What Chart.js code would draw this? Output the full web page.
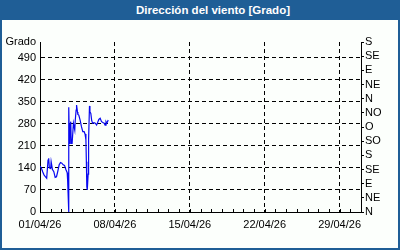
<!DOCTYPE html>
<html>
<head>
<meta charset="utf-8">
<script src="https://cdn.jsdelivr.net/npm/chart.js@4"></script>
<style>
    html, body { margin: 0; padding: 0; }
    body { width: 400px; height: 250px; overflow: hidden; background: #1f5e96; position: relative; }
    #titulo {
        position: absolute; left: 0; top: 0; width: 400px; height: 20px;
        color: #fff; font: bold 11.5px "Liberation Sans", sans-serif;
        line-height: 20px; text-align: center; text-indent: 26px;
    }
    #panel {
        position: absolute; left: 2px; top: 20px; width: 396px; height: 228px;
        background: #fcfffc;
    }
</style>
</head>
<body>
<div id="titulo">Dirección del viento [Grado]</div>
<div id="panel"><canvas id="grafico" width="396" height="228"></canvas></div>
<script>
// Horas desde 01/04/26 00:00
const horas = [0, 3, 6, 9, 12, 15, 18, 19.5, 21, 24, 25, 28, 31, 34, 37, 40, 43, 46, 49, 52, 55, 58, 61, 62, 63, 64, 64.5,
    65, 66, 67, 69, 70, 72, 74, 75, 78, 79, 81, 82, 84, 85, 87, 90, 93, 96, 99, 101, 103, 104, 105, 106, 108, 109,
    111, 112, 114, 116, 118, 121, 124, 127, 130, 132, 135, 138, 141, 144, 146, 148, 150, 153];
// Dirección del viento en grados
const grados = [146, 140, 128, 118, 112, 107, 165, 171, 140, 138, 160, 135, 128, 110, 112, 130, 150, 157, 155, 150, 148, 135, 125, 100, 60, 40, 0,
    333, 218, 271, 287, 218, 218, 218, 282, 260, 290, 324, 340, 318, 310, 308, 292, 271, 255, 255, 248, 229, 160, 80, 70, 120, 230,
    337, 318, 313, 290, 282, 284, 282, 276, 287, 294, 298, 287, 284, 282, 276, 287, 282, 292];

const ticksGrado = [0, 70, 140, 210, 280, 350, 420, 490, 540];
const ticksRumbo = [0, 45, 90, 135, 180, 225, 270, 315, 360, 405, 450, 495, 540];
const rumbos = ['N', 'NE', 'E', 'SE', 'S', 'SO', 'O', 'NO', 'N', 'NE', 'E', 'SE', 'S'];
const diasMes = 30;

const puntos = horas.map((h, i) => ({ x: h / 24, y: grados[i] }));

function etiquetaFecha(dia) {
    if (dia % 7 !== 0) return '';
    const d = dia + 1;
    return String(d).padStart(2, '0') + '/04/26';
}

// Marcas diarias hacia dentro sobre el eje x
const marcasDiarias = {
    id: 'marcasDiarias',
    afterDraw(chart) {
        const ctx = chart.ctx;
        const x = chart.scales.x;
        const base = chart.chartArea.bottom;
        ctx.save();
        ctx.strokeStyle = '#000';
        ctx.lineWidth = 1;
        ctx.beginPath();
        for (let d = 1; d <= diasMes; d++) {
            const px = Math.round(x.getPixelForValue(d)) + 0.5;
            ctx.moveTo(px, base);
            ctx.lineTo(px, base - 3);
        }
        ctx.stroke();
        ctx.restore();
    }
};

Chart.defaults.font.family = '"Liberation Sans", sans-serif';
Chart.defaults.font.size = 11;
Chart.defaults.color = '#000';

new Chart(document.getElementById('grafico'), {
    type: 'line',
    data: {
        datasets: [{
            data: puntos,
            borderColor: '#0808f0',
            borderWidth: 1.2,
            pointRadius: 0,
            tension: 0,
            yAxisID: 'y'
        }]
    },
    options: {
        animation: false,
        responsive: false,
        events: [],
        layout: { padding: { top: 22, left: 0, right: 0, bottom: 0 } },
        plugins: { legend: { display: false }, tooltip: { enabled: false } },
        scales: {
            x: {
                type: 'linear',
                min: 0,
                max: diasMes,
                afterBuildTicks: s => { s.ticks = []; for (let d = 0; d <= diasMes; d++) s.ticks.push({ value: d }); },
                afterFit: s => { s.height = 36; },
                ticks: { autoSkip: false, maxRotation: 0, padding: 6, callback: v => etiquetaFecha(v) },
                grid: {
                    drawTicks: false,
                    color: c => (c.tick && c.tick.value % 7 === 0 && c.tick.value > 0) ? '#000' : 'rgba(0,0,0,0)'
                },
                border: { color: '#000', width: 1, dash: [4, 3] }
            },
            y: {
                position: 'left',
                min: 0,
                max: 540,
                afterBuildTicks: s => { s.ticks = ticksGrado.map(v => ({ value: v })); },
                afterFit: s => { s.width = 38; },
                ticks: { autoSkip: false, padding: 4, callback: v => v === 540 ? 'Grado' : v },
                grid: {
                    drawTicks: false,
                    color: c => (c.tick && c.tick.value > 0 && c.tick.value < 540) ? '#000' : 'rgba(0,0,0,0)'
                },
                border: { color: '#000', width: 1, dash: [4, 3] }
            },
            y2: {
                position: 'right',
                min: 0,
                max: 540,
                afterBuildTicks: s => { s.ticks = ticksRumbo.map(v => ({ value: v })); },
                afterFit: s => { s.width = 37; },
                ticks: { autoSkip: false, padding: 1, callback: (v, i) => rumbos[i] },
                grid: { drawOnChartArea: false, drawTicks: true, tickLength: 3, tickColor: '#000' },
                border: { color: '#000', width: 1 }
            }
        }
    },
    plugins: [marcasDiarias]
});
</script>
</body>
</html>
